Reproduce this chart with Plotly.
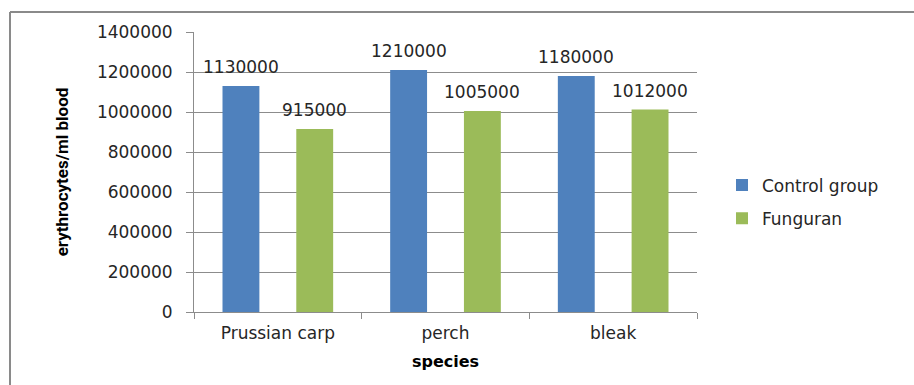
import plotly.graph_objects as go

# Erythrocyte counts per species
species = ["Prussian carp", "perch", "bleak"]
control_group = [1130000, 1210000, 1180000]
funguran = [915000, 1005000, 1012000]
y_ticks = [0, 200000, 400000, 600000, 800000, 1000000, 1200000, 1400000]

BLUE = "#4F81BD"
GREEN = "#9BBB59"
GRID = "#8C8C8C"
TEXT_FONT = "DejaVu Sans"
FS = 17

W, H = 914, 385
ML, MR, MT, MB = 194, 217, 32, 73
PW, PH = W - ML - MR, H - MT - MB
BARGAP, GROUPGAP = 0.12, 0.5

fig = go.Figure()
fig.add_trace(go.Bar(name="Control group", x=species, y=control_group,
                     legendgroup="control",
                     marker=dict(color=BLUE, line=dict(width=0))))
fig.add_trace(go.Bar(name="Funguran", x=species, y=funguran,
                     legendgroup="funguran",
                     marker=dict(color=GREEN, line=dict(width=0))))

# value labels above each bar
annotations = []
slot = PW / len(species) * (1 - BARGAP) / 2
for vals, shift in ((control_group, -slot / 2), (funguran, slot / 2)):
    for sp, v in zip(species, vals):
        annotations.append(dict(
            x=sp, y=v, xref="x", yref="y", text=str(v), showarrow=False,
            xshift=shift, yshift=7, yanchor="bottom",
            font=dict(family=TEXT_FONT, size=FS, color="#262626")))

# outer chart frame (left and top edges)
fx = (10 - ML) / PW
fy = 1 + (MT - 12) / PH
shapes = [
    dict(type="line", xref="paper", yref="paper", x0=fx, x1=(W - ML) / PW + 0.01,
         y0=fy, y1=fy, line=dict(color="#8A8A8A", width=2)),
    dict(type="line", xref="paper", yref="paper", x0=fx, x1=fx,
         y0=fy, y1=-MB / PH - 0.05, line=dict(color="#8A8A8A", width=2)),
]

fig.update_layout(
    width=W, height=H,
    margin=dict(l=ML, r=MR, t=MT, b=MB, autoexpand=False),
    paper_bgcolor="white", plot_bgcolor="white",
    barmode="group", bargap=BARGAP, bargroupgap=GROUPGAP,
    font=dict(family=TEXT_FONT, size=FS, color="#262626"),
    annotations=annotations, shapes=shapes,
    legend=dict(x=(722 - ML) / PW, y=(312 - 202) / PH, xanchor="left", yanchor="middle",
                xref="paper", yref="paper", bgcolor="rgba(0,0,0,0)",
                font=dict(family=TEXT_FONT, size=FS, color="#262626"),
                tracegroupgap=8, itemwidth=30),
    showlegend=True,
)

fig.update_xaxes(
    showline=True, linecolor=GRID, linewidth=1,
    ticks="outside", tickson="boundaries", ticklen=6, tickcolor=GRID,
    showgrid=False,
    ticklabelstandoff=6,
    tickfont=dict(family=TEXT_FONT, size=FS, color="#262626"),
    title=dict(text="<b>species</b>", standoff=13,
               font=dict(family=TEXT_FONT, size=16, color="#000000")),
)
fig.update_yaxes(
    range=[0, 1400000], tickvals=y_ticks, tickformat="d",
    showline=True, linecolor=GRID, linewidth=1,
    ticks="outside", ticklen=7, tickcolor=GRID,
    showgrid=True, gridcolor=GRID, gridwidth=1,
    zeroline=False,
    ticklabelstandoff=10,
    tickfont=dict(family=TEXT_FONT, size=FS, color="#262626"),
    title=dict(text="<b>erythrocytes/ml blood</b>", standoff=23,
               font=dict(family="Roboto", size=17, color="#000000")),
)

fig.write_html("out.html")
